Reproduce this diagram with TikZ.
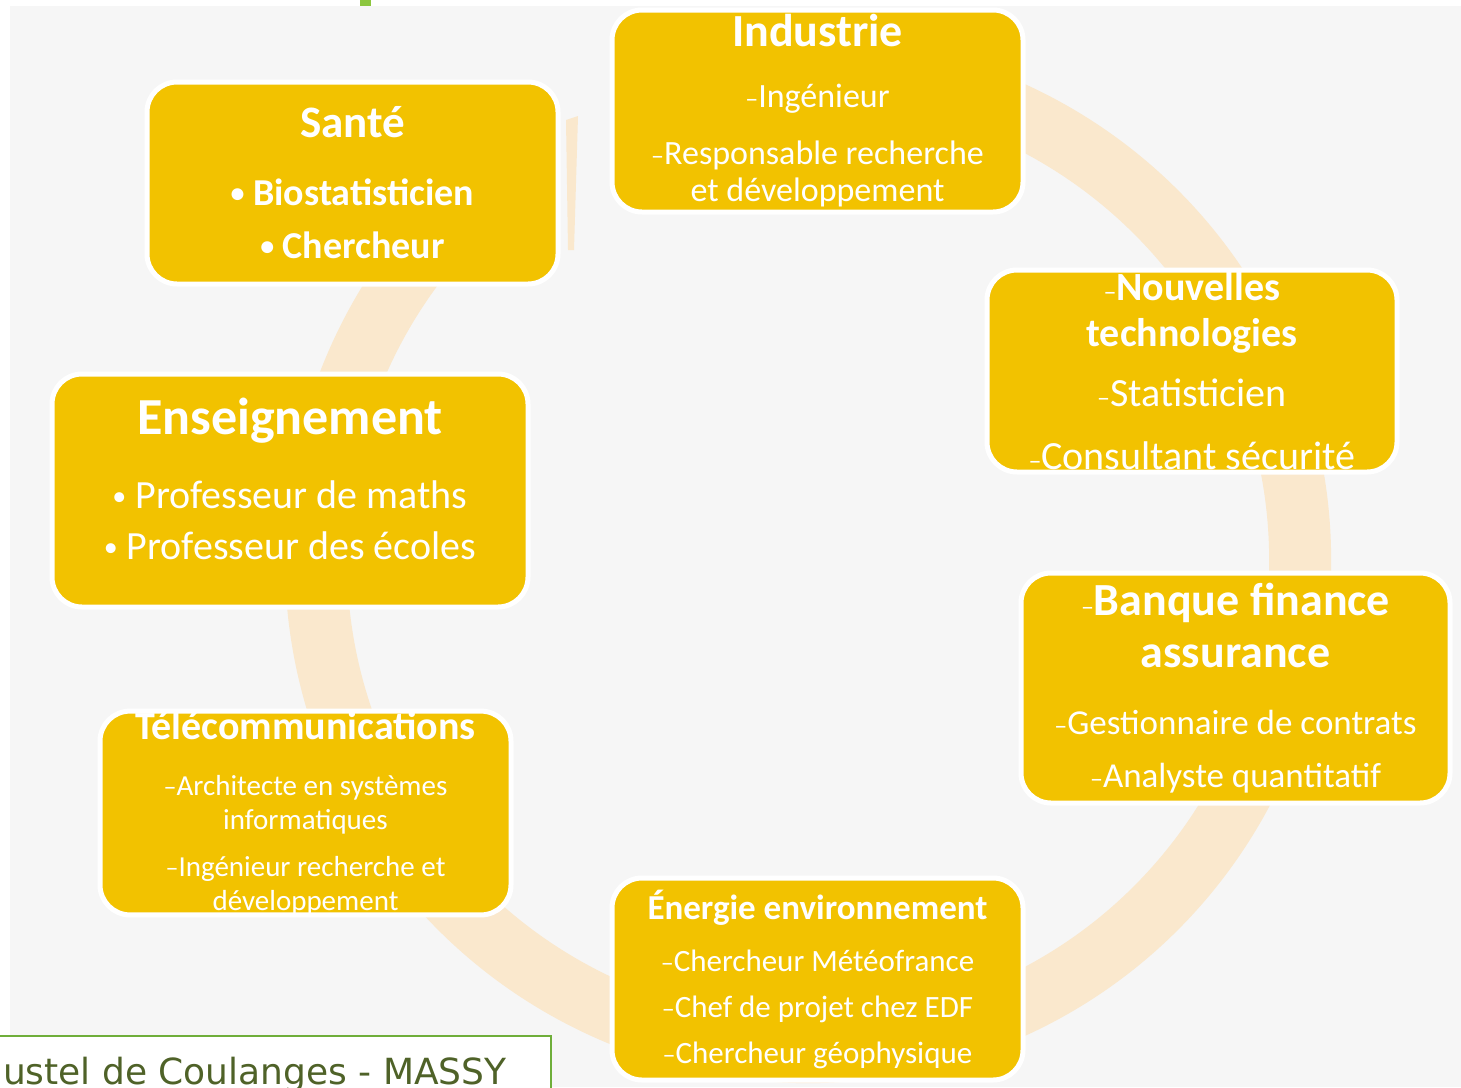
\documentclass[tikz,border=0pt]{standalone}
\usepackage{fontspec}
\setmainfont{Carlito}
\newfontfamily\footfont{DejaVu Sans}
\usetikzlibrary{positioning}
\definecolor{cardc}{HTML}{F2C200}
\definecolor{ringc}{HTML}{FAE8CD}
\definecolor{bgc}{HTML}{F6F6F6}
\definecolor{leafc}{HTML}{8CC63F}
\definecolor{olivec}{HTML}{4F6228}
\definecolor{framec}{HTML}{6FAE3A}
\newcommand{\dsh}{{\fontsize{13}{13}\selectfont\mdseries –}}
\newcommand{\blt}{\raisebox{1.5pt}{\fontsize{14}{14}\selectfont •}}
\newcommand{\fs}[1]{\fontsize{#1}{#1}\selectfont}
\tikzset{
  card/.style={draw=white,line width=2.5pt,fill=cardc,rounded corners=15pt,text=white,align=center,inner sep=0pt},
  ring/.style={draw=ringc,line width=31pt}
}
\begin{document}
\begin{tikzpicture}[x=0.5pt,y=-0.5pt]
\useasboundingbox (0,0) rectangle (1461,1087);
\clip (0,0) rectangle (1461,1087);
\fill[bgc] (10,6) rectangle (1461,1087);
\fill[leafc] (360,0) rectangle (371,6);
\draw[ring] (808,560) ++(-111:492) arc[start angle=-111,end angle=237,radius=492];
\fill[ringc] (566,120) -- (578,116) -- (574,250) -- (568,250) -- cycle;
\node[card,minimum width=205.5pt,minimum height=101pt,font=\fontsize{17}{18.5}\selectfont] (ind) at (817.5,111)
  {{\fs{23}\bfseries Industrie}\\[12pt]\dsh Ingénieur\\[10pt]\dsh Responsable recherche\\et développement};
\node[card,minimum width=205pt,minimum height=101pt,font=\fontsize{20}{23}\selectfont] (tech) at (1192,371)
  {{\bfseries\dsh Nouvelles}\\{\bfseries technologies}\\[7pt]\dsh Statisticien\\[8.5pt]\dsh Consultant sécurité};
\node[card,minimum width=214.5pt,minimum height=115pt,font=\fontsize{17.5}{26}\selectfont] (bank) at (1235.5,688)
  {{\fs{23}\bfseries\dsh Banque finance}\\{\fs{23}\bfseries assurance}\\[7.5pt]\dsh Gestionnaire de contrats\\[0.5pt]\dsh Analyste quantitatif};
\node[card,minimum width=205.5pt,minimum height=101pt,font=\fontsize{15.5}{23}\selectfont] (ener) at (817.5,979)
  {{\fs{17.5}\bfseries Énergie environnement}\\[3pt]\dsh Chercheur Météofrance\\\dsh Chef de projet chez EDF\\\dsh Chercheur géophysique};
\node[card,minimum width=205.5pt,minimum height=101pt,font=\fontsize{14.5}{17}\selectfont] (tele) at (305.5,813)
  {{\fs{20}\bfseries Télécommunications}\\[11pt]\dsh Architecte en systèmes\\informatiques\\[6.5pt]\dsh Ingénieur recherche et\\développement};
\node[card,minimum width=238pt,minimum height=116.5pt,font=\fontsize{20}{25.5}\selectfont] (ens) at (290,490.5)
  {{\fs{26}\bfseries Enseignement}\\[11.5pt]\blt\ Professeur de maths\\\blt\ Professeur des écoles\rule[-12pt]{0pt}{0pt}};
\node[card,minimum width=205.5pt,minimum height=101pt,font=\fontsize{19}{26.5}\selectfont\bfseries] (sante) at (352.5,183)
  {{\fs{22.5}Santé}\\[7.5pt]\blt\ Biostatisticien\\\blt\ Chercheur};
\draw[framec,line width=1pt,fill=white] (-5,1036) rectangle (551,1095);
\node[font=\footfont\fontsize{18}{18}\selectfont,text=olivec,anchor=base east,inner sep=0pt] (foot) at (507,1084) {ustel de Coulanges - MASSY};
\end{tikzpicture}
\end{document}
